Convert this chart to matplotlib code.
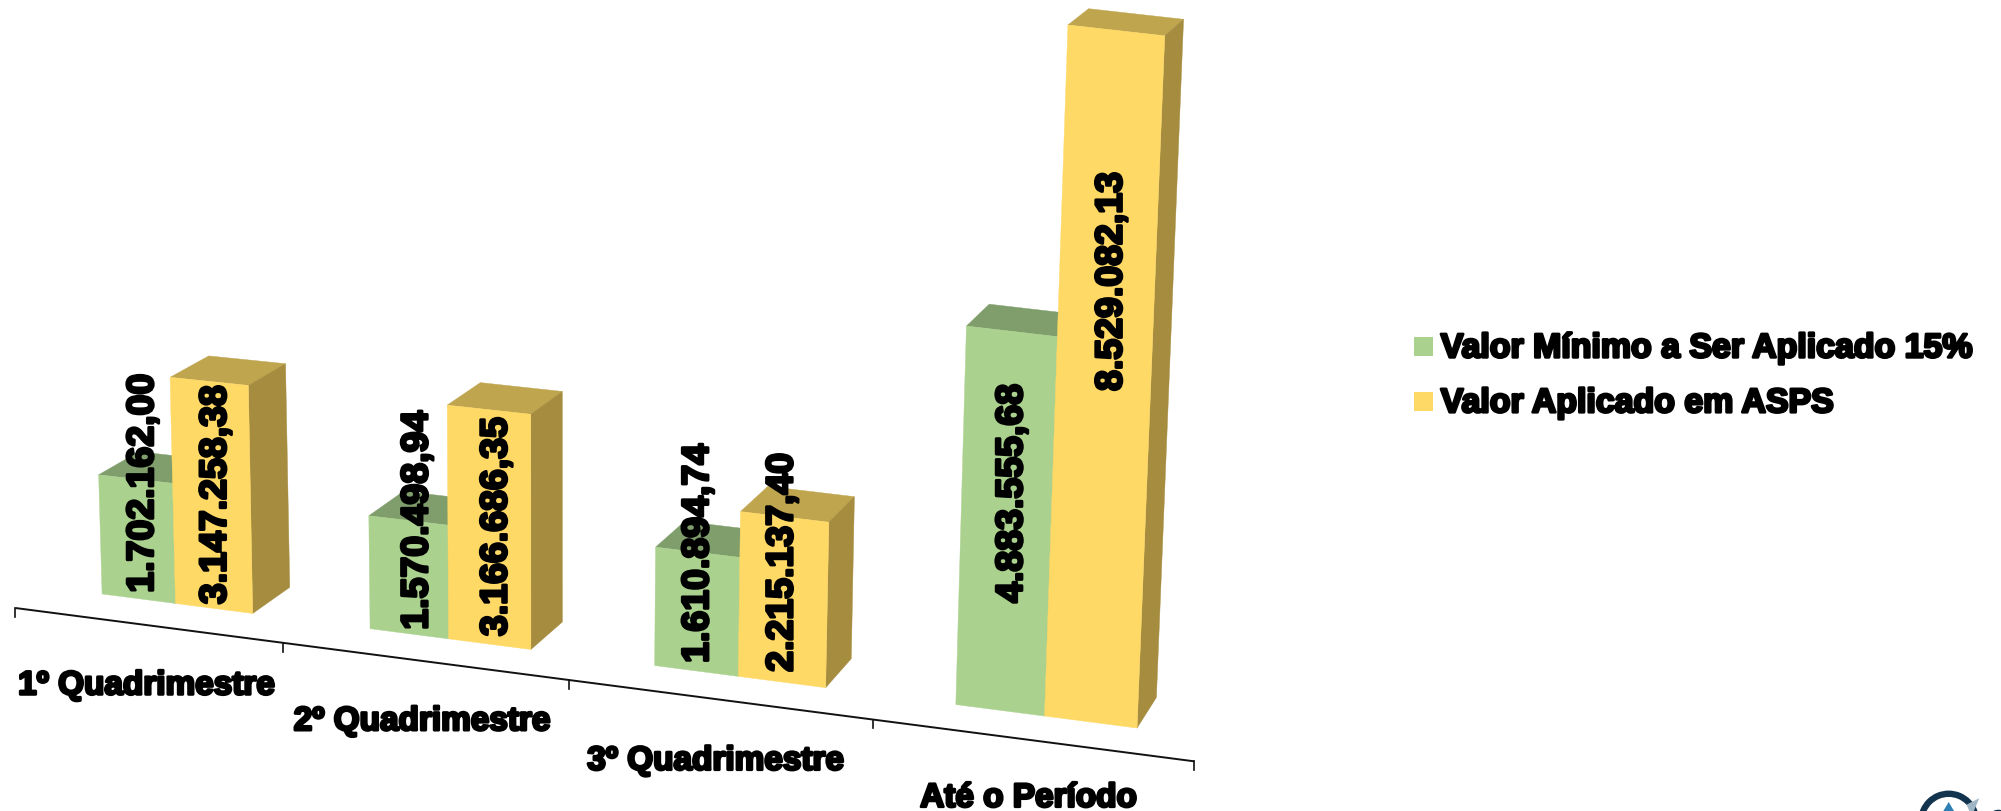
import matplotlib
matplotlib.use("Agg")
import matplotlib.pyplot as plt
import matplotlib.patheffects as pe
from matplotlib.patches import Polygon, Rectangle, Wedge

# ---- data ----
categories = ["1º Quadrimestre", "2º Quadrimestre", "3º Quadrimestre", "Até o Período"]
series_names = ["Valor Mínimo a Ser Aplicado 15%", "Valor Aplicado em ASPS"]
valor_minimo = [1702162.00, 1570498.94, 1610894.74, 4883555.68]
valor_aplicado = [3147258.38, 3166686.35, 2215137.40, 8529082.13]
labels_minimo = ["1.702.162,00", "1.570.498,94", "1.610.894,74", "4.883.555,68"]
labels_aplicado = ["3.147.258,38", "3.166.686,35", "2.215.137,40", "8.529.082,13"]

# ---- styling ----
W, H = 1568.0, 636.0            # drawing space (shrunk reference scale)
FRONT = ["#AAD18D", "#FFD966"]
TOP = ["#7F9E6B", "#BFA54E"]
SIDE = ["#7F9E6B", "#A68C3F"]
FONT = "Liberation Sans"
label_anchor = [  # (x centre, y bottom) of each value label, per series
    [(112, 465), (327, 494), (547, 520), (793, 473)],
    [(169, 474), (389, 499), (613, 527), (871, 307)],
]
cat_anchor = [(115, 538), (331, 566), (561, 597), (806, 626)]


# ---- hand-fitted perspective of the 3D chart ----
def axis_x(u):
    return 12 + 203 * u + 7 * u * u


def axis_y(x):
    return 477 + 0.13 * (x - 12)


def front_x(i, j):
    # the shared edge of a group's two bars sits slightly left of even spacing
    return 80 + 203.5 * i + 6.5 * i * i + (59 + 4 * i) * j - (1.5 if j == 1 else 0)


def project(x, v_m, depth=0.0):
    """Floor position x on the bars' front line, value in millions, depth 0..1."""
    y0 = 466 + 0.1295 * (x - 80)
    s = 53 + 0.009 * x - 4.5e-6 * x * x
    h = s * v_m * (1 + 0.0125 * v_m)
    xt = x + (x - 420) * 8.5e-5 * h
    yt = y0 - h
    dx = 33 - 0.02 * xt
    dy = (19.5 + 0.005 * x) * (1 - 0.054 * v_m)
    return xt + dx * depth, yt - dy * depth


def draw_bar(ax, i, j, value):
    v = value / 1e6
    xl, xr = front_x(i, j), front_x(i, j + 1)
    a, b = project(xl, 0), project(xr, 0)
    c, d = project(xr, v), project(xl, v)
    e, f = project(xr, v, 1), project(xl, v, 1)
    g = project(xr, 0, 1)
    ax.add_patch(Polygon([d, c, e, f], fc=TOP[j], ec=TOP[j], lw=0.3, zorder=2 + i + j * 0.1))
    ax.add_patch(Polygon([b, c, e, g], fc=SIDE[j], ec=SIDE[j], lw=0.3, zorder=2 + i + j * 0.1))
    ax.add_patch(Polygon([a, b, c, d], fc=FRONT[j], ec=FRONT[j], lw=0.3, zorder=2.01 + i + j * 0.1))


fig = plt.figure(figsize=(20.01, 8.12), dpi=100, facecolor="white")
ax = fig.add_axes([0, 0, 1, 1])
ax.set_xlim(0, W)
ax.set_ylim(H, 0)
ax.axis("off")

stroke = [pe.withStroke(linewidth=2.0, foreground="black")]

# category axis
us = list(range(len(categories) + 1))
xs = [axis_x(u) for u in us]
ax.plot(xs, [axis_y(x) for x in xs], color="#111111", lw=1.4, zorder=1, solid_capstyle="butt")
for x in xs:
    ax.plot([x, x], [axis_y(x), axis_y(x) + 7], color="#111111", lw=1.2, zorder=1)

# bars
for i in range(len(categories)):
    draw_bar(ax, i, 0, valor_minimo[i])
    draw_bar(ax, i, 1, valor_aplicado[i])

# value labels
for j, labels in enumerate([labels_minimo, labels_aplicado]):
    for (x, y), s in zip(label_anchor[j], labels):
        ax.text(x, y, s, rotation=90, ha="center", va="bottom", family=FONT,
                fontweight="bold", fontsize=27, color="black", path_effects=stroke, zorder=20)

# category labels
for (x, y), s in zip(cat_anchor, categories):
    ax.text(x, y, s, ha="center", va="center", family=FONT, fontweight="bold",
            fontsize=24, color="black", path_effects=stroke, zorder=20)

# legend
for k, (name, yc) in enumerate(zip(series_names, [274, 317])):
    ax.add_patch(Rectangle((1108, yc - 9), 15, 15, fc=FRONT[k], ec="none"))
    ax.text(1129, yc, name, ha="left", va="center", family=FONT, fontweight="bold",
            fontsize=24.4, color="black", path_effects=stroke, zorder=20)

# cut-off logo in the lower right corner
ax.add_patch(Wedge((1527, 644), 24, 0, 360, width=5, fc="#12344F", ec="none", zorder=5))
ax.add_patch(Polygon([(1518, 644), (1527, 629), (1536, 644)], fc="#2E7FB5", ec="none", zorder=6))
ax.add_patch(Polygon([(1541, 631), (1551, 626), (1545, 640)], fc="#9FB6C6", ec="none", zorder=6))
ax.add_patch(Wedge((1566, 644), 9, 0, 360, width=4, fc="#12344F", ec="none", zorder=5))

fig.savefig("out.png", dpi=100, facecolor="white")
